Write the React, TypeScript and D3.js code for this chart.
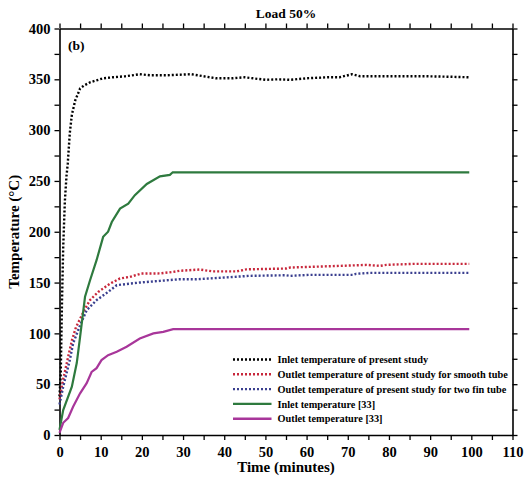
import React from 'react';
import * as d3 from 'd3';

const inletTime = [0, 0.3, 0.6, 0.9, 1.3, 1.7, 2, 2.5, 3, 3.8, 5, 6, 7.4, 9, 10.6, 13, 16, 19.5, 22, 26, 32, 35, 38, 42, 45, 47, 50, 53, 56, 60, 65, 68, 71, 73, 80, 89, 95, 99.5];
const inletTemp = [38, 60, 130, 185, 230, 255, 267, 297, 315, 329, 341, 344, 347, 349, 351, 352, 353, 355, 354, 354, 355, 353, 351, 351, 352, 351, 349.5, 350, 349.5, 351, 352, 352, 355, 353, 353, 353, 352.5, 352];

const smoothTime = [0, 0.9, 2, 3, 4, 5.8, 7.4, 9.4, 12.3, 14.7, 17.1, 19.9, 24.4, 27.6, 29.2, 34, 37.3, 43, 45.4, 55, 56, 68, 74.6, 77.8, 79.4, 85.9, 99.5];
const smoothTemp = [35, 55, 75, 93, 106, 121, 132.7, 140.8, 149, 154, 155.6, 158.9, 159, 160.5, 161.6, 162.8, 161, 161, 163, 163.8, 164.8, 166.4, 167.4, 166.4, 167.4, 168.4, 168.4];

const finTime = [0, 0.9, 2.5, 3.3, 5, 6.6, 9, 11.8, 13.9, 17.1, 19.5, 24.4, 29.2, 33.3, 38.5, 46.2, 55, 56, 60.8, 71.3, 72, 75.4, 99.5];
const finTemp = [30, 47.5, 73.7, 90, 108, 122.8, 132.7, 140.8, 147.4, 149, 150, 151.7, 153.3, 153.3, 154.6, 156.6, 157.2, 156.6, 157.6, 157.6, 158.6, 159.5, 159.5];

const refInletTime = [0, 0.9, 3, 4.2, 5, 6.2, 7.4, 9, 10.6, 11.8, 12.7, 14.7, 16.7, 18.3, 21.2, 24.4, 26.8, 27.5, 99.5];
const refInletTemp = [5, 24.5, 47.5, 71, 96.6, 136, 152, 172, 195, 200, 209.6, 222.8, 227.7, 236, 247, 254.5, 256, 258.5, 258.5];

const refOutletTime = [0, 0.9, 2.1, 3.3, 5, 6.6, 7.8, 9, 10.2, 11.8, 13.9, 16.3, 19.5, 22.8, 25.2, 27.6, 99.5];
const refOutletTemp = [2, 12, 16.7, 27.8, 41, 51, 62, 65.8, 73.7, 78.6, 81.9, 86.8, 95, 100, 101.5, 104.2, 104.2];

const seriesNames = [
  'Inlet temperature of present study',
  'Outlet temperature of present study for smooth tube',
  'Outlet temperature of present study for two fin tube',
  'Inlet temperature [33]',
  'Outlet temperature [33]',
];
const seriesColors = ['#000000', '#c8283c', '#3a3f8f', '#2e7a3e', '#a8369a'];
const seriesDotted = [true, true, true, false, false];

const xTicks = [0, 10, 20, 30, 40, 50, 60, 70, 80, 90, 100, 110];
const yTicks = [0, 50, 100, 150, 200, 250, 300, 350, 400];

const W = 531;
const H = 484;
const m = { left: 59.5, right: 512.5, top: 28.5, bottom: 435 };
const font = '"Liberation Serif", "Times New Roman", serif';

const App: React.FC = () => {
  const svgRef = React.useRef<SVGSVGElement>(null);

  React.useEffect(() => {
    const svg = d3.select(svgRef.current);
    svg.selectAll('*').remove();

    const x = d3.scaleLinear().domain([0, 110]).range([m.left, m.right]);
    const y = d3.scaleLinear().domain([0, 400]).range([m.bottom, m.top]);

    const minorX = d3.range(0, 111, 5);
    const minorY = d3.range(0, 401, 25);

    const styleAxis = (g: any) => {
      g.select('.domain').attr('stroke', '#000').attr('stroke-width', 1.6);
      g.selectAll('.tick line').attr('stroke', '#000').attr('stroke-width', 1.3);
      g.selectAll('text')
        .attr('font-family', font)
        .attr('font-weight', 'bold')
        .attr('font-size', 14.5)
        .attr('fill', '#000');
    };

    // bottom
    svg.append('g')
      .attr('transform', `translate(0,${m.bottom})`)
      .call(d3.axisBottom(x).tickValues(minorX).tickSize(5).tickSizeOuter(0)
        .tickFormat((d: any) => (xTicks.includes(d) ? String(d) : '')))
      .call(styleAxis)
      .call((g: any) => g.selectAll('text').attr('y', 11.5).attr('dy', '0.71em'));
    // top
    svg.append('g')
      .attr('transform', `translate(0,${m.top})`)
      .call(d3.axisTop(x).tickValues(minorX).tickSize(5).tickSizeOuter(0).tickFormat(() => ''))
      .call(styleAxis);
    // left
    svg.append('g')
      .attr('transform', `translate(${m.left},0)`)
      .call(d3.axisLeft(y).tickValues(minorY).tickSize(5).tickSizeOuter(0)
        .tickFormat((d: any) => (yTicks.includes(d) ? String(d) : '')))
      .call(styleAxis)
      .call((g: any) => g.selectAll('text').attr('x', -9));
    // right
    svg.append('g')
      .attr('transform', `translate(${m.right},0)`)
      .call(d3.axisRight(y).tickValues(minorY).tickSize(5).tickSizeOuter(0).tickFormat(() => ''))
      .call(styleAxis);

    const allSeries = [
      d3.zip(inletTime, inletTemp),
      d3.zip(smoothTime, smoothTemp),
      d3.zip(finTime, finTemp),
      d3.zip(refInletTime, refInletTemp),
      d3.zip(refOutletTime, refOutletTemp),
    ];

    const myLine = d3.line<number[]>()
      .x(d => x(d[0]))
      .y(d => y(d[1]));

    svg.append('g')
      .selectAll('path')
      .data(allSeries)
      .join('path')
      .attr('d', d => myLine(d))
      .attr('fill', 'none')
      .attr('stroke', (_, i) => seriesColors[i])
      .attr('stroke-width', (_, i) => (seriesDotted[i] ? 2.4 : 2.2))
      .attr('stroke-dasharray', (_, i) => (seriesDotted[i] ? '2,2' : null));

    // legend
    const legend = svg.append('g').attr('transform', 'translate(233,359.5)');
    const rows = legend.selectAll('g')
      .data(seriesNames)
      .join('g')
      .attr('transform', (_, i) => `translate(0,${i * 14.8})`);
    rows.append('line')
      .attr('x1', 0).attr('x2', 38.5)
      .attr('stroke', (_, i) => seriesColors[i])
      .attr('stroke-width', 2.4)
      .attr('stroke-dasharray', (_, i) => (seriesDotted[i] ? '2,2' : null));
    rows.append('text')
      .attr('x', 44.5)
      .attr('dy', '0.35em')
      .attr('font-family', font)
      .attr('font-weight', 'bold')
      .attr('font-size', 10.3)
      .text(d => d);

    // titles
    svg.append('text')
      .attr('x', (m.left + m.right) / 2)
      .attr('y', 18)
      .attr('text-anchor', 'middle')
      .attr('font-family', font)
      .attr('font-weight', 'bold')
      .attr('font-size', 13.5)
      .text('Load 50%');
    svg.append('text')
      .attr('x', 68)
      .attr('y', 49.5)
      .attr('font-family', font)
      .attr('font-weight', 'bold')
      .attr('font-size', 13.5)
      .text('(b)');
    svg.append('text')
      .attr('x', (m.left + m.right) / 2)
      .attr('y', 472)
      .attr('text-anchor', 'middle')
      .attr('font-family', font)
      .attr('font-weight', 'bold')
      .attr('font-size', 15)
      .text('Time (minutes)');
    svg.append('text')
      .attr('transform', `translate(19,${(m.top + m.bottom) / 2}) rotate(-90)`)
      .attr('text-anchor', 'middle')
      .attr('font-family', font)
      .attr('font-weight', 'bold')
      .attr('font-size', 15)
      .text('Temperature (°C)');
  }, []);

  return (
    <svg
      ref={svgRef}
      width={W}
      height={H}
      style={{ position: 'absolute', left: 0, top: 0, background: '#fff' }}
    />
  );
};

export default App;
